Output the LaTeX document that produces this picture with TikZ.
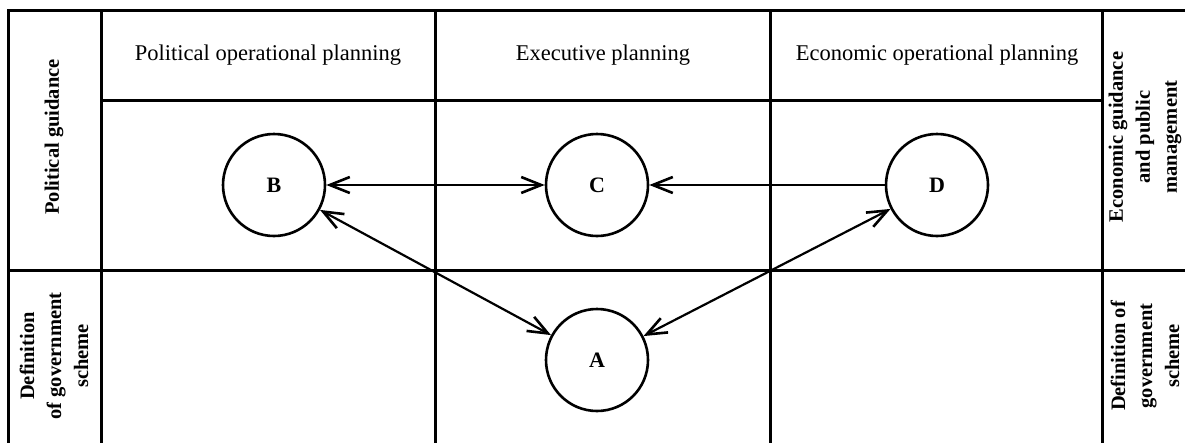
\documentclass[tikz,border=0pt]{standalone}
\usepackage{fontspec}
\setmainfont{Liberation Serif}
\usetikzlibrary{arrows.meta}
\begin{document}
\begin{tikzpicture}[x=1pt,y=-1pt,
  grid/.style={line width=3pt,line cap=rect},
  circ/.style={circle,draw,line width=2.6pt,minimum size=102pt,inner sep=0pt,font=\fontsize{22}{26}\selectfont\bfseries},
  hdr/.style={font=\fontsize{22.5}{26}\selectfont},
  side/.style={rotate=90,align=center,font=\fontsize{20.5}{27}\selectfont\bfseries},
  >={Straight Barb[length=20pt,width=16pt,line width=2.6pt]},
  link/.style={line width=2.2pt}]
\useasboundingbox (0,0) rectangle (1185,442);
% frame
\draw[grid] (8,442) -- (8,10) -- (1185,10);
\draw[grid] (101,10) -- (101,442);
\draw[grid] (435,10) -- (435,442);
\draw[grid] (770,10) -- (770,442);
\draw[grid] (1102,10) -- (1102,442);
\draw[grid] (101,100) -- (1102,100);
\draw[grid] (8,270) -- (1185,270);
% headers
\node[hdr] (h1) at (268,55) {Political operational planning};
\node[hdr] (h2) at (603,55) {Executive planning};
\node[hdr] (h3) at (937,55) {Economic operational planning};
% side labels
\node[side] (l1) at (54,137) {Political guidance};
\node[side] (l2) at (54,356) {Definition\\of government\\scheme};
\node[side] (r1) at (1145,137) {Economic guidance\\and public\\management};
\node[side] (r2) at (1145,356) {Definition of\\government\\scheme};
% circles
\node[circ] (B) at (274,185) {B};
\node[circ] (C) at (597,185) {C};
\node[circ] (D) at (937,185) {D};
\node[circ] (A) at (597,360) {A};
% connectors
\draw[link,<->] (B) -- (C);
\draw[link,->] (D) -- (C);
\draw[link,<->] (B) -- (A);
\draw[link,<->] (D) -- (A);
\end{tikzpicture}
\end{document}
